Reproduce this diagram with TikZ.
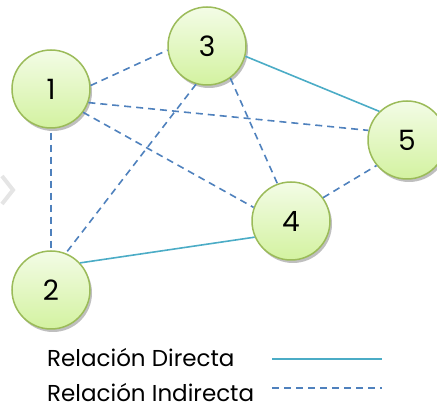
\documentclass[tikz,border=0pt]{standalone}
\usepackage{fontspec}
\setmainfont{Poppins}
\usetikzlibrary{shadows}
\definecolor{directc}{HTML}{4BACC6}
\definecolor{indirc}{HTML}{4F81BD}
\definecolor{nodeborder}{HTML}{9BBB59}
\definecolor{nodetop}{HTML}{F3FCE6}
\definecolor{nodebot}{HTML}{D3F2A0}
\begin{document}
\begin{tikzpicture}[x=1pt,y=1pt,
  vertex/.style={circle, minimum size=78pt, inner sep=0pt, draw=nodeborder, line width=1.5pt,
    top color=nodetop, bottom color=nodebot, font=\fontsize{28}{30}\selectfont,
    drop shadow={shadow xshift=2pt, shadow yshift=-3pt, opacity=0.25, fill=black}},
  direct/.style={draw=directc, line width=1.6pt},
  indirect/.style={draw=indirc, line width=1.6pt, dash pattern=on 7pt off 5pt},
  legendtext/.style={anchor=base west, inner sep=0pt, font=\fontsize{23}{25}\selectfont}]
\useasboundingbox (0,0) rectangle (437,410);
\draw[gray!20, line width=4pt] (2,234) -- (13,220) -- (2,206);
\node[vertex] (n1) at (51,321) {1};
\node[vertex] (n2) at (51,120) {2};
\node[vertex] (n3) at (207,364) {3};
\node[vertex] (n4) at (291,189) {4};
\node[vertex] (n5) at (407,270) {5};
\draw[indirect] (n1.5) -- (n3.186);
\draw[indirect] (n1.-20) -- (n5.166);
\draw[indirect] (n1.-36) -- (n4.160);
\draw[indirect] ([yshift=-4pt]n1.south) -- (n2.north);
\draw[indirect] (n3.-106) -- (n2.68);
\draw[indirect] (n3.-54) -- (n4.110);
\draw[indirect] (n4.36) -- (n5.220);
\draw[direct] (n3.-15) -- (n5.134);
\draw[direct] (n2.43) -- (n4.204);
\node[legendtext] (t1) at (47,43) {Relación Directa};
\node[legendtext] (t2) at (47,8) {Relación Indirecta};
\coordinate (d1a) at (272,51);
\coordinate (d1b) at (382,51);
\coordinate (d2a) at (272,22);
\coordinate (d2b) at (382,22);
\draw[direct] (d1a) -- (d1b);
\draw[indirect] (d2a) -- (d2b);
\end{tikzpicture}
\end{document}
